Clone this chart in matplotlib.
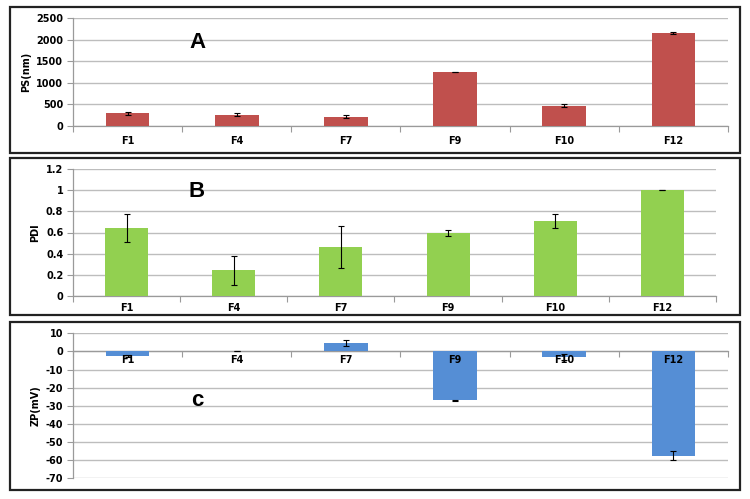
import matplotlib
matplotlib.use("Agg")
import matplotlib.pyplot as plt
from matplotlib.patches import Rectangle
import numpy as np

categories = ["F1", "F4", "F7", "F9", "F10", "F12"]
ps_values = [290, 260, 210, 1250, 470, 2150]
ps_err = [40, 35, 35, 8, 35, 30]
pdi_values = [0.645, 0.24, 0.465, 0.595, 0.71, 1.0]
pdi_err = [0.135, 0.135, 0.2, 0.027, 0.07, 0.0]
zp_values = [-2.5, 0.5, 4.8, -27.0, -3.0, -57.5]
zp_err = [0.7, 0.0, 1.6, 0.3, 1.5, 2.5]

W, H = 750, 499
fig = plt.figure(figsize=(W / 100, H / 100), dpi=100)
fig.patch.set_facecolor("white")

def fx(px):
    return px / W

def fy(py):
    return 1 - py / H

boxes = [(10, 7, 740, 153), (10, 158.5, 740, 315), (10, 321.5, 740, 490)]
for l, t, r, b in boxes:
    fig.patches.append(Rectangle((fx(l), fy(b)), fx(r - l), (b - t) / H,
                                 transform=fig.transFigure, fill=False,
                                 edgecolor="#222222", linewidth=1.6, zorder=10))

grid_c = "#BDBDBD"
axis_c = "#9A9A9A"
tick_font = dict(fontsize=7, fontweight="bold", family="DejaVu Sans")

def setup(ax, values, err, color, ylim, yticks, ylabel, ytick_labels, label_pad, xlabels=True):
    x = np.arange(len(categories))
    ax.bar(x, values, width=0.4, color=color, zorder=3)
    ax.errorbar(x, values, yerr=err, fmt="none", ecolor="black",
                elinewidth=0.8, capsize=2.5, capthick=0.8, zorder=4)
    ax.set_xlim(-0.5, len(categories) - 0.5)
    ax.set_ylim(*ylim)
    ax.set_yticks(yticks)
    ax.set_yticklabels(ytick_labels, **tick_font)
    ax.set_xticks(x)
    if xlabels:
        ax.set_xticklabels(categories, **tick_font)
    else:
        ax.set_xticklabels([""] * len(categories))
    ax.set_xticks(np.arange(-0.5, len(categories)), minor=True)
    ax.tick_params(axis="x", which="major", length=0, pad=label_pad)
    ax.tick_params(axis="x", which="minor", length=4, color=axis_c, width=0.8)
    ax.tick_params(axis="y", length=4, color=axis_c, width=0.8, pad=3)
    for s in ["top", "right"]:
        ax.spines[s].set_visible(False)
    for s in ["left", "bottom"]:
        ax.spines[s].set_color(axis_c)
        ax.spines[s].set_linewidth(0.9)
    ax.yaxis.grid(True, color=grid_c, linewidth=1.0, zorder=0)
    ax.set_axisbelow(True)
    ax.set_ylabel(ylabel, fontsize=7, fontweight="bold", labelpad=4)
    ax.set_facecolor("white")

# Panel A
axA = fig.add_axes([fx(73), fy(126), fx(728 - 73), 108 / H])
setup(axA, ps_values, ps_err, "#C0504D", (0, 2500), [0, 500, 1000, 1500, 2000, 2500],
      "PS(nm)", ["0", "500", "1000", "1500", "2000", "2500"], 7)
axA.text(fx(197), fy(43), "A", transform=fig.transFigure, fontsize=16,
         fontweight="bold", family="Liberation Sans", ha="center", va="center")

# Panel B
axB = fig.add_axes([fx(73), fy(295.7), fx(716 - 73), 126.4 / H])
setup(axB, pdi_values, pdi_err, "#92D050", (0, 1.2), [0, 0.2, 0.4, 0.6, 0.8, 1.0, 1.2],
      "PDI", ["0", "0.2", "0.4", "0.6", "0.8", "1", "1.2"], 5.5)
axB.text(fx(197), fy(191.5), "B", transform=fig.transFigure, fontsize=16,
         fontweight="bold", family="Liberation Sans", ha="center", va="center")

# Panel C
axC = fig.add_axes([fx(73), fy(478.3), fx(728 - 73), 145 / H])
axC.spines["bottom"].set_position(("data", 0))
setup(axC, zp_values, zp_err, "#558ED5", (-70, 10), list(range(-70, 11, 10)),
      "ZP(mV)", [str(v) for v in range(-70, 11, 10)], 2, xlabels=False)
for i, name in enumerate(categories):
    axC.annotate(name, xy=(i, 0), xycoords="data", xytext=(0, -2.5),
                 textcoords="offset points", ha="center", va="top",
                 zorder=6, **tick_font)
axC.text(fx(197), fy(400), "c", transform=fig.transFigure, fontsize=16,
         fontweight="bold", family="Liberation Sans", ha="center", va="center")

fig.savefig("out.png", dpi=100, facecolor="white")
